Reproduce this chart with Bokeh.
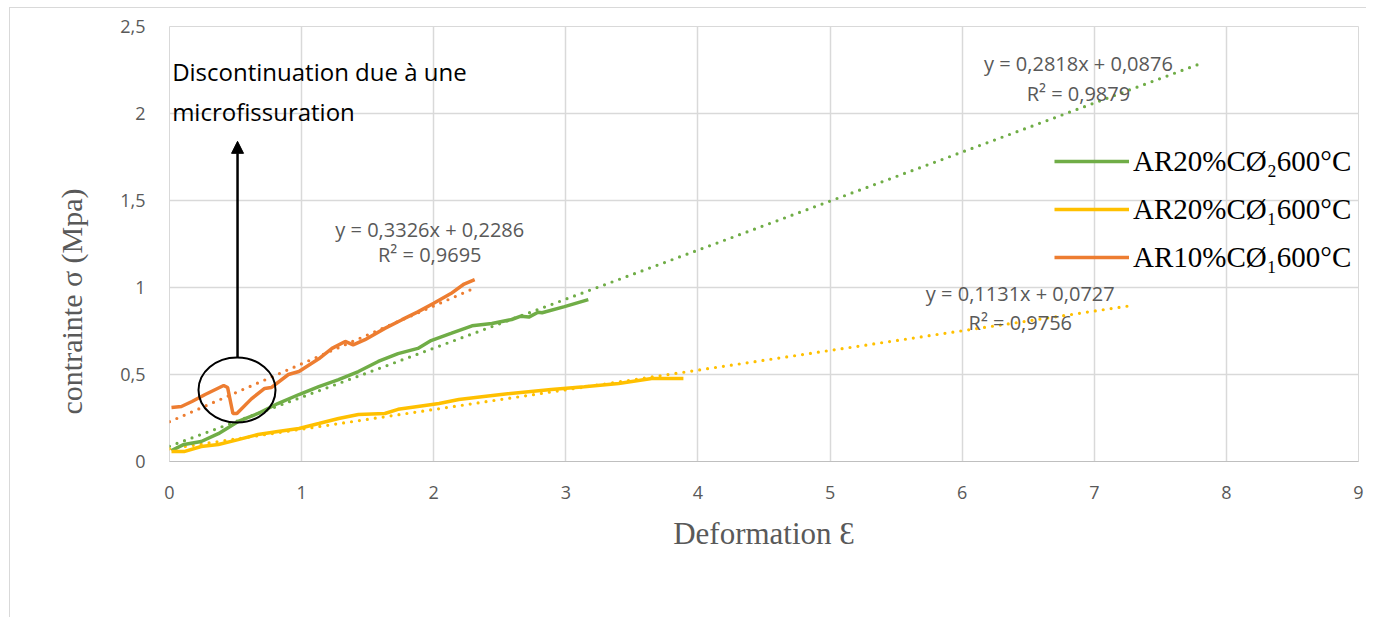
from bokeh.plotting import figure
from bokeh.models import (Range1d, FixedTicker, Legend, LegendItem, Arrow, NormalHead, Label, Title)
from bokeh.embed import file_html
from bokeh.resources import INLINE

# ---- data -----------------------------------------------------------
green_x = [0.015, 0.11, 0.24, 0.37, 0.52, 0.67, 0.82, 0.98, 1.13, 1.28, 1.43, 1.58, 1.73, 1.88, 1.98,
           2.13, 2.29, 2.44, 2.59, 2.66, 2.72, 2.79, 2.82, 2.99, 3.17]
green_y = [0.063, 0.098, 0.115, 0.16, 0.23, 0.276, 0.333, 0.385, 0.43, 0.47, 0.517, 0.575, 0.62, 0.65, 0.695,
           0.736, 0.78, 0.793, 0.816, 0.835, 0.83, 0.858, 0.855, 0.89, 0.93]

yellow_x = [0.015, 0.11, 0.24, 0.37, 0.52, 0.67, 0.82, 0.98, 1.13, 1.28, 1.43, 1.63, 1.73, 1.88, 2.04,
            2.19, 2.38, 2.51, 2.89, 3.14, 3.40, 3.65, 3.89]
yellow_y = [0.057, 0.057, 0.086, 0.098, 0.126, 0.155, 0.172, 0.19, 0.218, 0.247, 0.27, 0.276, 0.30, 0.316, 0.333,
            0.356, 0.374, 0.385, 0.414, 0.43, 0.448, 0.477, 0.477]

orange_x = [0.015, 0.09, 0.17, 0.27, 0.41, 0.44, 0.48, 0.51, 0.62, 0.72, 0.77, 0.90, 0.98, 1.13, 1.23, 1.33,
            1.39, 1.48, 1.63, 1.76, 1.88, 2.0, 2.13, 2.23, 2.31]
orange_y = [0.31, 0.316, 0.345, 0.385, 0.437, 0.425, 0.276, 0.276, 0.36, 0.42, 0.425, 0.50, 0.517, 0.59, 0.65, 0.69,
            0.67, 0.70, 0.765, 0.815, 0.86, 0.91, 0.965, 1.02, 1.045]

# linear trend lines: slope, intercept, x end
green_fit = (0.2818, 0.0876, 7.82)
yellow_fit = (0.1131, 0.0727, 7.30)
orange_fit = (0.3326, 0.2286, 2.30)

labels = ["AR20%CØ\u2082600°C", "AR20%CØ\u2081600°C", "AR10%CØ\u2081600°C"]
eq_texts = ["y = 0,2818x + 0,0876", "R\u00b2 = 0,9879",
            "y = 0,1131x + 0,0727", "R\u00b2 = 0,9756",
            "y = 0,3326x + 0,2286", "R\u00b2 = 0,9695"]
x_ticks = [0, 1, 2, 3, 4, 5, 6, 7, 8, 9]
y_ticks = [0, 0.5, 1, 1.5, 2, 2.5]
y_tick_labels = ["0", "0,5", "1", "1,5", "2", "2,5"]
y_title = "contrainte \u03c3 (Mpa)"
x_title = "Deformation \u0190"

GREEN = "#70AD47"
YELLOW = "#FFC000"
ORANGE = "#ED7D31"
GREY_TXT = "#595959"

p = figure(width=1357, height=610, output_backend="svg", toolbar_location=None,
           x_range=Range1d(0, 9), y_range=Range1d(0, 2.5),
           min_border_left=159, min_border_right=9, min_border_top=18, min_border_bottom=157)
p.styles = {"margin-left": "9px", "margin-top": "7px",
            "border-left": "1px solid #d9d9d9", "border-top": "1px solid #d9d9d9"}
p.outline_line_color = "#d9d9d9"
p.background_fill_color = "white"

p.xaxis.ticker = FixedTicker(ticks=x_ticks)
p.yaxis.ticker = FixedTicker(ticks=y_ticks)
p.yaxis.major_label_overrides = {t: l for t, l in zip(y_ticks, y_tick_labels)}
for ax in (p.xaxis, p.yaxis):
    ax.major_tick_line_color = None
    ax.minor_tick_line_color = None
    ax.major_label_text_font = "Open Sans"
    ax.major_label_text_font_size = "18px"
    ax.major_label_text_color = GREY_TXT
    ax.axis_label_text_font = "Liberation Serif"
    ax.axis_label_text_font_style = "normal"
    ax.axis_label_text_color = GREY_TXT
p.xaxis.axis_line_color = "#bfbfbf"
p.yaxis.axis_line_color = None
p.xaxis.major_label_standoff = 18
p.yaxis.major_label_standoff = 18
p.xaxis.axis_label = x_title
p.xaxis.axis_label_text_font_size = "31px"
p.xaxis.axis_label_standoff = 14
p.grid.grid_line_color = "#d9d9d9"
p.grid.grid_line_width = 1.5

# y-axis title, placed lower than the frame centre as in the reference
p.add_layout(Title(text=y_title, align="left", offset=47, vertical_align="middle", standoff=58,
                   text_font="Liberation Serif", text_font_size="30px", text_font_style="normal",
                   text_color=GREY_TXT), "left")

# trend lines
def fit_line(fit, color):
    m, b, xe = fit
    p.line([0, xe], [b, m * xe + b], line_color=color, line_width=3.2,
           line_dash="0 8", line_cap="round")

fit_line(green_fit, GREEN)
fit_line(yellow_fit, YELLOW)
fit_line(orange_fit, ORANGE)

r_g = p.line(green_x, green_y, line_color=GREEN, line_width=3.5)
r_y = p.line(yellow_x, yellow_y, line_color=YELLOW, line_width=3.5)
r_o = p.line(orange_x, orange_y, line_color=ORANGE, line_width=3.5)

legend = Legend(items=[LegendItem(label=labels[0], renderers=[r_g]),
                       LegendItem(label=labels[1], renderers=[r_y]),
                       LegendItem(label=labels[2], renderers=[r_o])],
                location=(885, 184), orientation="vertical",
                background_fill_alpha=0, border_line_color=None,
                label_text_font="Liberation Serif", label_text_font_size="29px",
                label_text_color="black", glyph_width=75, glyph_height=40,
                label_height=40, spacing=8, padding=0, margin=0, label_standoff=4)
p.add_layout(legend)

# equation labels
eq_pos = [(6.88, 2.287), (6.88, 2.115), (6.44, 0.966), (6.44, 0.80), (1.97, 1.333), (1.97, 1.19)]
for (ex, ey), t in zip(eq_pos, eq_texts):
    p.add_layout(Label(x=ex, y=ey, text=t, text_align="center", text_baseline="middle",
                       text_font="Open Sans", text_font_size="20px", text_color=GREY_TXT))

# annotation
p.ellipse(x=[0.511], y=[0.411], width=[0.583], height=[0.374], fill_color=None,
          line_color="black", line_width=2)
p.add_layout(Arrow(end=NormalHead(size=12, fill_color="black", line_color="black"),
                   x_start=0.515, y_start=0.598, x_end=0.515, y_end=1.84,
                   line_color="black", line_width=2.5))
p.add_layout(Label(x=0.02, y=2.24, text="Discontinuation due à une", text_baseline="middle",
                   text_font="Open Sans", text_font_size="24px", text_color="black"))
p.add_layout(Label(x=0.02, y=2.01, text="microfissuration", text_baseline="middle",
                   text_font="Open Sans", text_font_size="24px", text_color="black"))

open("out.html", "w").write(file_html(p, INLINE))
